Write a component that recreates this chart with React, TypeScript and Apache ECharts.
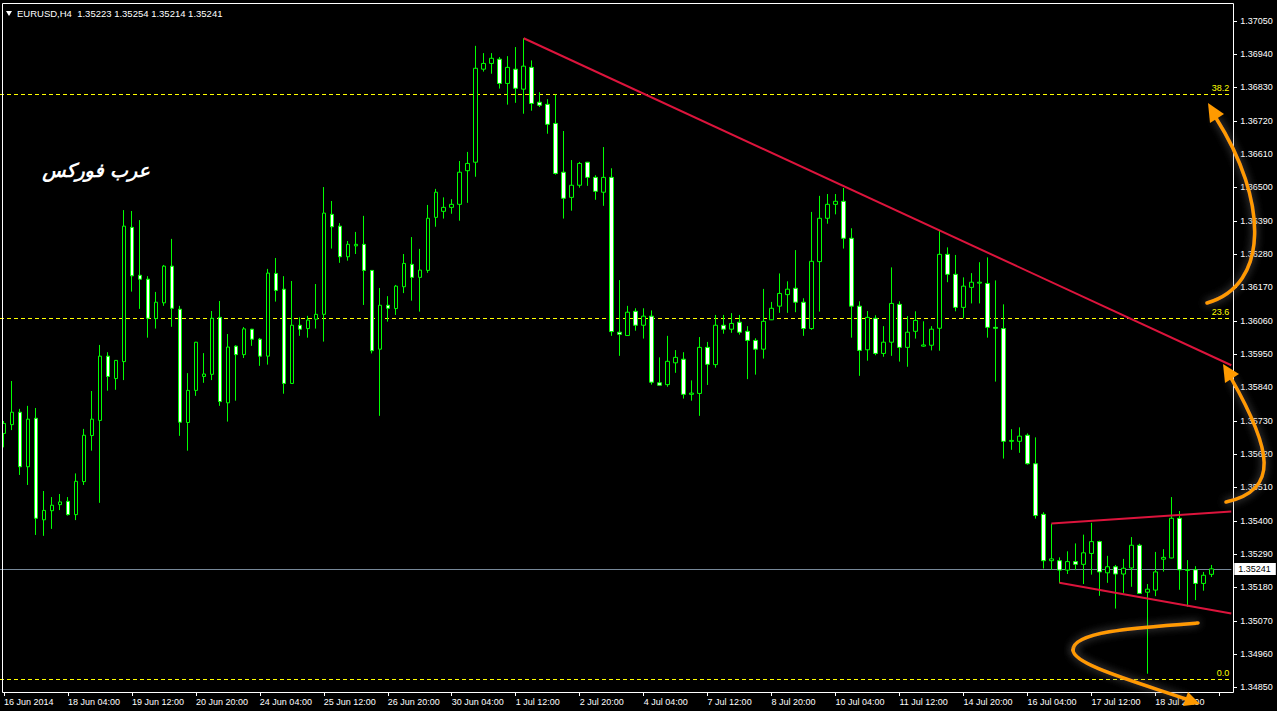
import { useEffect, useRef } from 'react';
import * as echarts from 'echarts';

const symbol = 'EURUSD';
const period = 'H4';

// H4 candles (open, close, low, high)
const opens = [
  1.35688, 1.35717, 1.35758, 1.35578, 1.35738, 1.35403, 1.35433, 1.35453, 1.35464, 1.35420,
  1.35529, 1.35681, 1.35731, 1.35943, 1.35869, 1.35925, 1.36368, 1.36210, 1.36197, 1.36067,
  1.36119, 1.36240, 1.36098, 1.35724, 1.35830, 1.35876, 1.35883, 1.36071, 1.35789, 1.35976,
  1.35948, 1.36032, 1.35999, 1.35943, 1.36216, 1.36164, 1.35853, 1.36045, 1.36034, 1.36065,
  1.36081, 1.36411, 1.36372, 1.36271, 1.36307, 1.36312, 1.36226, 1.35966, 1.36111, 1.36100,
  1.36172, 1.36246, 1.36203, 1.36226, 1.36401, 1.36421, 1.36434, 1.36444, 1.36555, 1.36583,
  1.36890, 1.36909, 1.36923, 1.36843, 1.36890, 1.36824, 1.36896, 1.36781, 1.36774, 1.36711,
  1.36550, 1.36467, 1.36507, 1.36583, 1.36533, 1.36484, 1.36533, 1.36022, 1.36011, 1.36091,
  1.36045, 1.36075, 1.35855, 1.35849, 1.35921, 1.35933, 1.35817, 1.35820, 1.35972, 1.35915,
  1.36045, 1.36032, 1.36055, 1.36025, 1.35995, 1.35966, 1.36063, 1.36108, 1.36146, 1.36167,
  1.36121, 1.36034, 1.36255, 1.36398, 1.36444, 1.36454, 1.36332, 1.36108, 1.35964, 1.36068,
  1.35952, 1.35989, 1.36114, 1.35972, 1.36025, 1.35976, 1.35979, 1.36035, 1.36279, 1.36213,
  1.36104, 1.36170, 1.36184, 1.36183, 1.36038, 1.36034, 1.35662, 1.35662, 1.35682, 1.35588,
  1.35421, 1.35268, 1.35268, 1.35237, 1.35265, 1.35256, 1.35292, 1.35331, 1.35228, 1.35248,
  1.35224, 1.35244, 1.35319, 1.35164, 1.35171, 1.35273, 1.35277, 1.35408, 1.35236, 1.35238,
  1.35193, 1.35223,
];
const closes = [
  1.35721, 1.35758, 1.35578, 1.35735, 1.35408, 1.35434, 1.35451, 1.35462, 1.35420, 1.35530,
  1.35682, 1.35735, 1.35943, 1.35876, 1.35929, 1.36372, 1.36208, 1.36197, 1.36068, 1.36121,
  1.36240, 1.36101, 1.35725, 1.35830, 1.35989, 1.35884, 1.36068, 1.35793, 1.35973, 1.35948,
  1.36033, 1.35999, 1.35943, 1.36217, 1.36160, 1.35853, 1.36045, 1.36032, 1.36062, 1.36081,
  1.36415, 1.36370, 1.36271, 1.36312, 1.36312, 1.36226, 1.35961, 1.36111, 1.36101, 1.36174,
  1.36249, 1.36203, 1.36227, 1.36398, 1.36484, 1.36434, 1.36444, 1.36550, 1.36579, 1.36893,
  1.36909, 1.36926, 1.36843, 1.36896, 1.36827, 1.36900, 1.36777, 1.36771, 1.36708, 1.36546,
  1.36464, 1.36507, 1.36579, 1.36533, 1.36487, 1.36533, 1.36024, 1.36015, 1.36088, 1.36045,
  1.36075, 1.35857, 1.35847, 1.35926, 1.35939, 1.35817, 1.35821, 1.35972, 1.35916, 1.36045,
  1.36032, 1.36051, 1.36022, 1.35995, 1.35966, 1.36058, 1.36101, 1.36150, 1.36164, 1.36121,
  1.36034, 1.36256, 1.36398, 1.36444, 1.36454, 1.36332, 1.36108, 1.35962, 1.36071, 1.35952,
  1.35989, 1.36117, 1.35972, 1.36022, 1.36061, 1.35980, 1.36032, 1.36279, 1.36213, 1.36104,
  1.36174, 1.36187, 1.36187, 1.36038, 1.36035, 1.35662, 1.35665, 1.35679, 1.35588, 1.35417,
  1.35268, 1.35274, 1.35237, 1.35265, 1.35256, 1.35294, 1.35331, 1.35231, 1.35248, 1.35224,
  1.35243, 1.35319, 1.35160, 1.35174, 1.35231, 1.35279, 1.35408, 1.35238, 1.35238, 1.35193,
  1.35220, 1.35241,
];
const lows = [
  1.35642, 1.35699, 1.35551, 1.35518, 1.35353, 1.35350, 1.35373, 1.35435, 1.35417, 1.35402,
  1.35518, 1.35631, 1.35459, 1.35829, 1.35832, 1.35864, 1.36156, 1.36099, 1.36004, 1.36034,
  1.36109, 1.36040, 1.35680, 1.35631, 1.35812, 1.35855, 1.35864, 1.35779, 1.35727, 1.35796,
  1.35937, 1.35977, 1.35911, 1.35915, 1.36123, 1.35819, 1.35852, 1.36010, 1.36004, 1.36034,
  1.35991, 1.36298, 1.36251, 1.36258, 1.36280, 1.36112, 1.35952, 1.35746, 1.36057, 1.36079,
  1.36151, 1.36126, 1.36090, 1.36218, 1.36370, 1.36397, 1.36413, 1.36390, 1.36449, 1.36535,
  1.36882, 1.36875, 1.36826, 1.36773, 1.36779, 1.36743, 1.36753, 1.36765, 1.36677, 1.36542,
  1.36397, 1.36423, 1.36499, 1.36505, 1.36459, 1.36439, 1.36010, 1.35944, 1.36010, 1.36027,
  1.36001, 1.35849, 1.35846, 1.35842, 1.35888, 1.35803, 1.35796, 1.35746, 1.35848, 1.35905,
  1.36017, 1.36020, 1.36014, 1.35867, 1.35882, 1.35935, 1.36062, 1.36086, 1.36086, 1.36088,
  1.36010, 1.36030, 1.36090, 1.36380, 1.36411, 1.36298, 1.36004, 1.35878, 1.35928, 1.35946,
  1.35941, 1.35944, 1.35925, 1.35908, 1.36001, 1.35974, 1.35962, 1.35961, 1.36187, 1.36091,
  1.36068, 1.36117, 1.36117, 1.36004, 1.35859, 1.35605, 1.35634, 1.35624, 1.35585, 1.35407,
  1.35242, 1.35238, 1.35194, 1.35224, 1.35237, 1.35191, 1.35222, 1.35152, 1.35195, 1.35110,
  1.35162, 1.35182, 1.35158, 1.34895, 1.35151, 1.35232, 1.35276, 1.35172, 1.35116, 1.35138,
  1.35169, 1.35214,
];
const highs = [
  1.35729, 1.35861, 1.35769, 1.35779, 1.35772, 1.35498, 1.35478, 1.35488, 1.35478, 1.35556,
  1.35703, 1.35828, 1.35980, 1.35956, 1.35930, 1.36425, 1.36422, 1.36392, 1.36207, 1.36155,
  1.36244, 1.36330, 1.36109, 1.35887, 1.35990, 1.35953, 1.36092, 1.36125, 1.36016, 1.35979,
  1.36039, 1.36033, 1.36003, 1.36231, 1.36267, 1.36207, 1.36191, 1.36071, 1.36076, 1.36181,
  1.36501, 1.36455, 1.36382, 1.36323, 1.36353, 1.36406, 1.36227, 1.36168, 1.36141, 1.36178,
  1.36280, 1.36336, 1.36297, 1.36442, 1.36495, 1.36467, 1.36461, 1.36587, 1.36617, 1.36967,
  1.36943, 1.36943, 1.36930, 1.36933, 1.36963, 1.36992, 1.36919, 1.36814, 1.36791, 1.36806,
  1.36686, 1.36590, 1.36584, 1.36584, 1.36540, 1.36633, 1.36563, 1.36194, 1.36109, 1.36101,
  1.36101, 1.36094, 1.35939, 1.36010, 1.35963, 1.35956, 1.35863, 1.36006, 1.35990, 1.36079,
  1.36079, 1.36085, 1.36079, 1.36042, 1.36002, 1.36165, 1.36122, 1.36216, 1.36190, 1.36293,
  1.36134, 1.36419, 1.36472, 1.36478, 1.36478, 1.36498, 1.36365, 1.36124, 1.36092, 1.36078,
  1.36042, 1.36236, 1.36124, 1.36075, 1.36091, 1.36058, 1.36042, 1.36358, 1.36302, 1.36277,
  1.36203, 1.36217, 1.36253, 1.36269, 1.36193, 1.36114, 1.35702, 1.35708, 1.35688, 1.35675,
  1.35428, 1.35390, 1.35279, 1.35299, 1.35325, 1.35354, 1.35393, 1.35334, 1.35284, 1.35254,
  1.35274, 1.35346, 1.35324, 1.35191, 1.35297, 1.35306, 1.35478, 1.35432, 1.35270, 1.35250,
  1.35231, 1.35254,
];

const timeLabels = [
  '16 Jun 2014', '18 Jun 04:00', '19 Jun 12:00', '20 Jun 20:00', '24 Jun 04:00',
  '25 Jun 12:00', '26 Jun 20:00', '30 Jun 04:00', '1 Jul 12:00', '2 Jul 20:00',
  '4 Jul 04:00', '7 Jul 12:00', '8 Jul 20:00', '10 Jul 04:00', '11 Jul 12:00',
  '14 Jul 20:00', '16 Jul 04:00', '17 Jul 12:00', '18 Jul 20:00',
];
const labelStep = 8;

const priceTicks = [
  1.3485, 1.3496, 1.3507, 1.3518, 1.3529, 1.354, 1.3551, 1.3562, 1.3573, 1.3584, 1.3595,
  1.3606, 1.3617, 1.3628, 1.3639, 1.365, 1.3661, 1.3672, 1.3683, 1.3694, 1.3705,
];

const fibNames = ['38.2', '23.6', '0.0'];
const fibValues = [1.36807, 1.36068, 1.34877];

// trend lines: [bar index, price]
const trendMain = [[65, 1.36992], [153.5, 1.35913]];
const channelUpper = [[131, 1.35391], [153.5, 1.3543]];
const channelLower = [[132, 1.35195], [153.5, 1.35094]];

const Y_MIN = 1.348347;
const Y_MAX = 1.371051;
const SLOTS = 154;

const ORANGE = '#FF9A00';
const curveStyle = {
  stroke: ORANGE,
  lineWidth: 3.5,
  fill: null,
  lineCap: 'round',
  shadowBlur: 8,
  shadowColor: 'rgba(110,110,110,0.9)',
};

export default function App() {
  const ref = useRef<HTMLDivElement>(null);

  useEffect(() => {
    if (!ref.current) return;
    const chart = echarts.init(ref.current, null, { renderer: 'svg' });
    const categories = Array.from({ length: SLOTS }, (_, i) => String(i));
    const candleData = opens.map((o, i) => [o, closes[i], lows[i], highs[i]]);
    const last = opens.length - 1;
    const header = `${symbol},${period}  ${opens[last].toFixed(5)} ${highs[last].toFixed(5)} ${lows[last].toFixed(5)} ${closes[last].toFixed(5)}`;

    const trendSeries = (data: number[][]) => ({
      type: 'line',
      xAxisIndex: 1,
      yAxisIndex: 0,
      data,
      symbol: 'none',
      silent: true,
      clip: true,
      z: 4,
      lineStyle: { color: '#DC143C', width: 2 },
    });

    const graphics: any[] = [
      {
        id: 'frame',
        type: 'rect',
        z: 100,
        silent: true,
        shape: { x: 2.5, y: 3.5, width: 1231, height: 689 },
        style: { fill: null, stroke: '#fff', lineWidth: 1 },
      },
      {
        id: 'tri',
        type: 'polygon',
        z: 100,
        shape: { points: [[6, 11], [12, 11], [9, 16]] },
        style: { fill: '#fff' },
      },
      {
        id: 'header',
        type: 'text',
        z: 100,
        style: {
          text: header,
          x: 17,
          y: 13,
          fill: '#fff',
          font: '9.5px "Liberation Sans"',
          textVerticalAlign: 'middle',
        },
      },
      {
        id: 'brand',
        type: 'text',
        z: 100,
        style: {
          text: 'عرب فوركس',
          x: 96,
          y: 170,
          fill: '#fff',
          font: 'italic bold 19px "DejaVu Sans"',
          textAlign: 'center',
          textVerticalAlign: 'middle',
        },
      },
      // top-right arrow
      {
        id: 'a1',
        type: 'bezierCurve',
        z: 101,
        shape: { x1: 1207, y1: 303, cpx1: 1270, cpy1: 285, cpx2: 1268, cpy2: 200, x2: 1216, y2: 118 },
        style: curveStyle,
      },
      {
        id: 'a1h',
        type: 'polygon',
        z: 101,
        shape: { points: [[1208, 103], [1224, 114], [1210, 123]] },
        style: { fill: ORANGE },
      },
      // middle-right arrow
      {
        id: 'a2',
        type: 'bezierCurve',
        z: 101,
        shape: { x1: 1226, y1: 502, cpx1: 1280, cpy1: 490, cpx2: 1272, cpy2: 450, x2: 1231, y2: 378 },
        style: curveStyle,
      },
      {
        id: 'a2h',
        type: 'polygon',
        z: 101,
        shape: { points: [[1223, 364], [1239, 374], [1225, 383]] },
        style: { fill: ORANGE },
      },
      // bottom arrow
      {
        id: 'a3a',
        type: 'bezierCurve',
        z: 101,
        shape: { x1: 1198, y1: 623, cpx1: 1130, cpy1: 628, cpx2: 1073, cpy2: 632, x2: 1073, y2: 650 },
        style: curveStyle,
      },
      {
        id: 'a3b',
        type: 'bezierCurve',
        z: 101,
        shape: { x1: 1073, y1: 650, cpx1: 1073, cpy1: 664, cpx2: 1130, cpy2: 680, x2: 1186, y2: 699 },
        style: curveStyle,
      },
      {
        id: 'a3h',
        type: 'polygon',
        z: 101,
        shape: { points: [[1200, 704], [1183, 706], [1188, 692]] },
        style: { fill: ORANGE },
      },
    ];

    const option: any = {
      animation: false,
      backgroundColor: '#000',
      grid: { left: -0.7, top: 4, width: 1232, height: 688 },
      xAxis: [
        {
          type: 'category',
          data: categories,
          boundaryGap: true,
          axisLine: { show: false },
          axisTick: {
            show: true,
            interval: labelStep - 1,
            alignWithLabel: true,
            length: 4,
            lineStyle: { color: '#fff' },
          },
          axisLabel: {
            interval: labelStep - 1,
            color: '#fff',
            fontSize: 9,
            fontFamily: 'Liberation Sans',
            align: 'left',
            margin: 5,
            formatter: (_v: string, idx: number) => timeLabels[idx / labelStep] ?? '',
          },
          splitLine: { show: false },
        },
        { type: 'value', min: -0.5, max: SLOTS - 0.5, show: false },
      ],
      yAxis: {
        type: 'value',
        position: 'right',
        min: Y_MIN,
        max: Y_MAX,
        axisLine: { show: false },
        axisTick: { show: false },
        axisLabel: {
          customValues: priceTicks,
          color: '#fff',
          fontSize: 9,
          fontFamily: 'Liberation Sans',
          margin: 9,
          formatter: (v: number) => v.toFixed(5),
        },
        splitLine: { show: false },
        minorTick: { show: false },
      },
      series: [
        {
          type: 'candlestick',
          data: candleData,
          barWidth: 4,
          z: 3,
          itemStyle: {
            color: '#000',
            color0: '#fff',
            borderColor: '#00FF00',
            borderColor0: '#00FF00',
            borderColorDoji: '#00FF00',
            borderWidth: 1,
          },
          markLine: {
            silent: true,
            symbol: ['none', 'none'],
            precision: 5,
            z: 2,
            data: [
              ...fibValues.map((v, k) => ({
                yAxis: v,
                lineStyle: { color: '#FFFF00', type: [4, 3], width: 1 },
                label: {
                  show: true,
                  position: 'insideEndTop',
                  formatter: fibNames[k],
                  color: '#FFFF00',
                  fontSize: 9,
                  fontFamily: 'Liberation Sans',
                  distance: 2,
                },
              })),
              {
                yAxis: closes[last],
                lineStyle: { color: '#778899', type: 'solid', width: 1 },
                label: {
                  show: true,
                  position: 'end',
                  formatter: closes[last].toFixed(5),
                  backgroundColor: '#fff',
                  color: '#000',
                  fontSize: 9,
                  fontFamily: 'Liberation Sans',
                  padding: [2, 5, 1, 4],
                  distance: 3,
                },
              },
            ],
          },
        },
        trendSeries(trendMain),
        trendSeries(channelUpper),
        trendSeries(channelLower),
      ],
      graphic: graphics,
    };

    chart.setOption(option);

    // price-axis tick marks, placed with the axis' own scale
    const tickMarks = priceTicks.map((v, k) => {
      const y = Math.round(chart.convertToPixel({ yAxisIndex: 0 }, v) as number) + 0.5;
      return {
        id: 'ytick' + k,
        type: 'line',
        z: 100,
        silent: true,
        shape: { x1: 1233, y1: y, x2: 1237, y2: y },
        style: { stroke: '#fff', lineWidth: 1 },
      };
    });
    chart.setOption({ graphic: [...graphics, ...tickMarks] });

    return () => chart.dispose();
  }, []);

  return (
    <div
      ref={ref}
      style={{ position: 'fixed', left: 0, top: 0, width: 1277, height: 711, background: '#000' }}
    />
  );
}
